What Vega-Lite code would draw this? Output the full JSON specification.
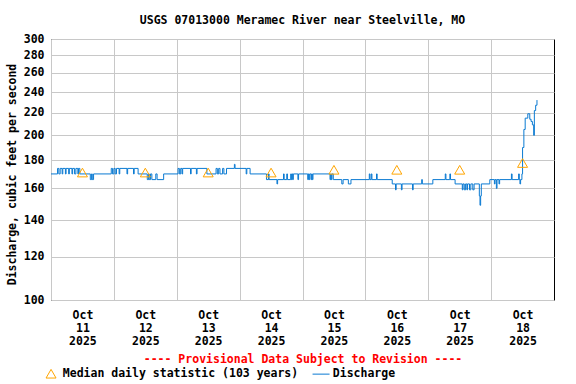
{
  "$schema": "https://vega.github.io/schema/vega-lite/v6.json",
  "width": 503,
  "height": 261,
  "autosize": {"type": "none"},
  "padding": {"left": 51, "top": 39, "right": 22, "bottom": 84},
  "background": "white",
  "config": {
    "font": "DejaVu Sans Mono",
    "view": {"stroke": "#000000", "strokeWidth": 1},
    "axis": {
      "labelFont": "DejaVu Sans Mono", "labelFontWeight": "bold", "labelFontSize": 11.5, "labelColor": "#000000",
      "titleFont": "DejaVu Sans Mono", "titleFontWeight": "bold", "titleFontSize": 11.5, "titleColor": "#000000",
      "gridColor": "#c8c8c8", "gridOpacity": 1, "gridWidth": 1,
      "ticks": false, "tickSize": 0, "domain": false, "labelOverlap": false, "labelFlush": false
    },
    "legend": {"labelFont": "DejaVu Sans Mono", "labelFontWeight": "bold", "labelFontSize": 11.5, "labelColor": "#000000", "labelLimit": 0}
  },
  "title": {
    "text": "USGS 07013000 Meramec River near Steelville, MO",
    "font": "DejaVu Sans Mono", "fontSize": 11.5, "fontWeight": "bold", "color": "#000000",
    "anchor": "middle", "offset": 7
  },
  "datasets": {
    "discharge": [
      {"t": "2025-10-11T00:00", "q": 170}, {"t": "2025-10-11T02:30", "q": 174}, {"t": "2025-10-11T03:00", "q": 170},
      {"t": "2025-10-11T03:30", "q": 174}, {"t": "2025-10-11T04:15", "q": 170}, {"t": "2025-10-11T04:30", "q": 174},
      {"t": "2025-10-11T05:30", "q": 170}, {"t": "2025-10-11T05:45", "q": 174}, {"t": "2025-10-11T06:45", "q": 170},
      {"t": "2025-10-11T07:00", "q": 174}, {"t": "2025-10-11T08:00", "q": 170}, {"t": "2025-10-11T08:15", "q": 174},
      {"t": "2025-10-11T09:00", "q": 170}, {"t": "2025-10-11T09:30", "q": 174}, {"t": "2025-10-11T10:15", "q": 170},
      {"t": "2025-10-11T10:30", "q": 174}, {"t": "2025-10-11T11:00", "q": 170}, {"t": "2025-10-11T15:00", "q": 166},
      {"t": "2025-10-11T15:30", "q": 170}, {"t": "2025-10-11T15:45", "q": 166}, {"t": "2025-10-11T16:15", "q": 170},
      {"t": "2025-10-11T23:00", "q": 174}, {"t": "2025-10-11T23:30", "q": 170}, {"t": "2025-10-12T00:00", "q": 174},
      {"t": "2025-10-12T00:30", "q": 170}, {"t": "2025-10-12T01:00", "q": 174}, {"t": "2025-10-12T02:00", "q": 170},
      {"t": "2025-10-12T02:15", "q": 174}, {"t": "2025-10-12T05:00", "q": 170}, {"t": "2025-10-12T05:15", "q": 174},
      {"t": "2025-10-12T07:30", "q": 170}, {"t": "2025-10-12T07:45", "q": 174}, {"t": "2025-10-12T09:15", "q": 170},
      {"t": "2025-10-12T12:45", "q": 166}, {"t": "2025-10-12T13:15", "q": 170}, {"t": "2025-10-12T13:30", "q": 166},
      {"t": "2025-10-12T14:00", "q": 170}, {"t": "2025-10-12T14:30", "q": 166}, {"t": "2025-10-12T16:00", "q": 170},
      {"t": "2025-10-12T16:30", "q": 166}, {"t": "2025-10-12T19:00", "q": 170}, {"t": "2025-10-13T00:30", "q": 174},
      {"t": "2025-10-13T01:00", "q": 170}, {"t": "2025-10-13T01:30", "q": 174}, {"t": "2025-10-13T02:00", "q": 170},
      {"t": "2025-10-13T02:15", "q": 174}, {"t": "2025-10-13T05:15", "q": 170}, {"t": "2025-10-13T05:30", "q": 174},
      {"t": "2025-10-13T07:30", "q": 170}, {"t": "2025-10-13T07:45", "q": 174}, {"t": "2025-10-13T11:30", "q": 170},
      {"t": "2025-10-13T15:00", "q": 174}, {"t": "2025-10-13T15:30", "q": 170}, {"t": "2025-10-13T16:00", "q": 174},
      {"t": "2025-10-13T16:30", "q": 170}, {"t": "2025-10-13T17:30", "q": 174}, {"t": "2025-10-13T18:00", "q": 170},
      {"t": "2025-10-13T19:00", "q": 174}, {"t": "2025-10-13T22:00", "q": 177}, {"t": "2025-10-13T22:15", "q": 174},
      {"t": "2025-10-14T02:30", "q": 170}, {"t": "2025-10-14T02:45", "q": 174}, {"t": "2025-10-14T04:00", "q": 170},
      {"t": "2025-10-14T10:15", "q": 166}, {"t": "2025-10-14T11:00", "q": 170}, {"t": "2025-10-14T11:15", "q": 166},
      {"t": "2025-10-14T14:15", "q": 163}, {"t": "2025-10-14T14:30", "q": 166}, {"t": "2025-10-14T16:45", "q": 170},
      {"t": "2025-10-14T17:00", "q": 166}, {"t": "2025-10-14T18:00", "q": 170}, {"t": "2025-10-14T18:15", "q": 166},
      {"t": "2025-10-14T19:30", "q": 170}, {"t": "2025-10-14T19:45", "q": 166}, {"t": "2025-10-14T20:00", "q": 170},
      {"t": "2025-10-14T20:15", "q": 166}, {"t": "2025-10-14T20:30", "q": 170}, {"t": "2025-10-14T22:15", "q": 166},
      {"t": "2025-10-14T22:30", "q": 170}, {"t": "2025-10-15T02:00", "q": 166}, {"t": "2025-10-15T02:15", "q": 170},
      {"t": "2025-10-15T02:30", "q": 166}, {"t": "2025-10-15T02:45", "q": 170}, {"t": "2025-10-15T03:15", "q": 166},
      {"t": "2025-10-15T03:30", "q": 170}, {"t": "2025-10-15T03:45", "q": 166}, {"t": "2025-10-15T04:00", "q": 170},
      {"t": "2025-10-15T10:30", "q": 166}, {"t": "2025-10-15T10:45", "q": 170}, {"t": "2025-10-15T11:00", "q": 166},
      {"t": "2025-10-15T11:15", "q": 170}, {"t": "2025-10-15T11:45", "q": 166}, {"t": "2025-10-15T15:00", "q": 163},
      {"t": "2025-10-15T15:30", "q": 166}, {"t": "2025-10-15T17:30", "q": 163}, {"t": "2025-10-15T18:30", "q": 166},
      {"t": "2025-10-16T01:30", "q": 170}, {"t": "2025-10-16T01:45", "q": 166}, {"t": "2025-10-16T02:15", "q": 170},
      {"t": "2025-10-16T02:30", "q": 166}, {"t": "2025-10-16T04:15", "q": 170}, {"t": "2025-10-16T04:30", "q": 166},
      {"t": "2025-10-16T10:15", "q": 163}, {"t": "2025-10-16T11:30", "q": 159}, {"t": "2025-10-16T11:45", "q": 163},
      {"t": "2025-10-16T13:45", "q": 159}, {"t": "2025-10-16T14:00", "q": 163}, {"t": "2025-10-16T18:00", "q": 159},
      {"t": "2025-10-16T18:15", "q": 163}, {"t": "2025-10-16T21:30", "q": 166}, {"t": "2025-10-16T21:45", "q": 163},
      {"t": "2025-10-17T01:45", "q": 166}, {"t": "2025-10-17T06:30", "q": 170}, {"t": "2025-10-17T06:45", "q": 166},
      {"t": "2025-10-17T08:15", "q": 170}, {"t": "2025-10-17T08:30", "q": 166}, {"t": "2025-10-17T10:15", "q": 163},
      {"t": "2025-10-17T13:00", "q": 159}, {"t": "2025-10-17T13:15", "q": 163}, {"t": "2025-10-17T13:45", "q": 159},
      {"t": "2025-10-17T14:15", "q": 163}, {"t": "2025-10-17T14:45", "q": 159}, {"t": "2025-10-17T15:00", "q": 163},
      {"t": "2025-10-17T15:45", "q": 159}, {"t": "2025-10-17T16:15", "q": 163}, {"t": "2025-10-17T17:00", "q": 159},
      {"t": "2025-10-17T17:30", "q": 163}, {"t": "2025-10-17T19:30", "q": 155}, {"t": "2025-10-17T19:45", "q": 149},
      {"t": "2025-10-17T20:00", "q": 155}, {"t": "2025-10-17T20:15", "q": 163}, {"t": "2025-10-17T23:30", "q": 166},
      {"t": "2025-10-18T01:15", "q": 163}, {"t": "2025-10-18T01:30", "q": 166}, {"t": "2025-10-18T02:00", "q": 160},
      {"t": "2025-10-18T02:15", "q": 166}, {"t": "2025-10-18T03:00", "q": 163}, {"t": "2025-10-18T03:15", "q": 166},
      {"t": "2025-10-18T07:45", "q": 170}, {"t": "2025-10-18T08:00", "q": 166}, {"t": "2025-10-18T10:30", "q": 170},
      {"t": "2025-10-18T10:45", "q": 166}, {"t": "2025-10-18T11:00", "q": 163}, {"t": "2025-10-18T11:15", "q": 166},
      {"t": "2025-10-18T11:45", "q": 170}, {"t": "2025-10-18T12:00", "q": 190}, {"t": "2025-10-18T12:30", "q": 205},
      {"t": "2025-10-18T13:00", "q": 215}, {"t": "2025-10-18T14:00", "q": 219}, {"t": "2025-10-18T14:45", "q": 214},
      {"t": "2025-10-18T15:15", "q": 212}, {"t": "2025-10-18T15:45", "q": 209}, {"t": "2025-10-18T16:15", "q": 200},
      {"t": "2025-10-18T16:30", "q": 222}, {"t": "2025-10-18T17:00", "q": 227}, {"t": "2025-10-18T17:30", "q": 232}
    ],
    "median": [
      {"t": "2025-10-11T12:00", "q": 171}, {"t": "2025-10-12T12:00", "q": 171},
      {"t": "2025-10-13T12:00", "q": 171}, {"t": "2025-10-14T12:00", "q": 171},
      {"t": "2025-10-15T12:00", "q": 173}, {"t": "2025-10-16T12:00", "q": 173},
      {"t": "2025-10-17T12:00", "q": 173}, {"t": "2025-10-18T12:00", "q": 178}
    ]
  },
  "layer": [
    {
      "data": {"name": "discharge"},
      "transform": [{"calculate": "'Discharge'", "as": "s"}],
      "mark": {"type": "line", "interpolate": "step-after", "strokeWidth": 1, "clip": true},
      "encoding": {
        "x": {
          "field": "t", "type": "temporal",
          "scale": {"domain": [{"year": 2025, "month": 10, "date": 11}, {"year": 2025, "month": 10, "date": 19}]},
          "axis": {
            "values": [
              {"year": 2025, "month": 10, "date": 11}, {"year": 2025, "month": 10, "date": 12},
              {"year": 2025, "month": 10, "date": 13}, {"year": 2025, "month": 10, "date": 14},
              {"year": 2025, "month": 10, "date": 15}, {"year": 2025, "month": 10, "date": 16},
              {"year": 2025, "month": 10, "date": 17}, {"year": 2025, "month": 10, "date": 18}
            ],
            "labelExpr": "[timeFormat(datum.value, '%b'), timeFormat(datum.value, '%d'), timeFormat(datum.value, '%Y')]",
            "labelOffset": 31.44,
            "labelPadding": 9,
            "labelLineHeight": 13.3,
            "labelBaseline": "top",
            "grid": true,
            "title": "---- Provisional Data Subject to Revision ----",
            "titleColor": "#ff0000",
            "titlePadding": 6
          }
        },
        "y": {
          "field": "q", "type": "quantitative",
          "scale": {"type": "log", "domain": [100, 300], "nice": false},
          "axis": {
            "values": [100, 120, 140, 160, 180, 200, 220, 240, 260, 280, 300],
            "title": "Discharge, cubic feet per second",
            "labelPadding": 7,
            "titlePadding": 6,
            "titleY": 135,
            "grid": true
          }
        },
        "color": {
          "field": "s", "type": "nominal",
          "scale": {"domain": ["Median daily statistic (103 years)", "Discharge"], "range": ["#ffa500", "#0a7ad2"]},
          "legend": {
            "title": null,
            "orient": "none",
            "legendX": -5.7,
            "legendY": 328.5,
            "direction": "horizontal",
            "columns": 2,
            "columnPadding": 12,
            "symbolSize": 289,
            "labelOffset": 6,
            "labelLimit": 0,
            "symbolStrokeWidth": 1,
            "encode": {
              "symbols": {
                "update": {
                  "shape": {"signal": "datum.value === 'Discharge' ? 'stroke' : 'triangle-up'"},
                  "size": {"signal": "datum.value === 'Discharge' ? 289 : 100"},
                  "fill": {"value": "transparent"},
                  "stroke": {"signal": "datum.value === 'Discharge' ? '#0a7ad2' : '#ffa500'"},
                  "strokeWidth": {"value": 1}
                }
              }
            }
          }
        }
      }
    },
    {
      "data": {"name": "median"},
      "transform": [{"calculate": "'Median daily statistic (103 years)'", "as": "s"}],
      "mark": {"type": "point", "shape": "triangle-up", "filled": false, "size": 100, "strokeWidth": 1, "opacity": 1},
      "encoding": {
        "x": {"field": "t", "type": "temporal"},
        "y": {"field": "q", "type": "quantitative"},
        "color": {"field": "s", "type": "nominal"}
      }
    }
  ]
}
